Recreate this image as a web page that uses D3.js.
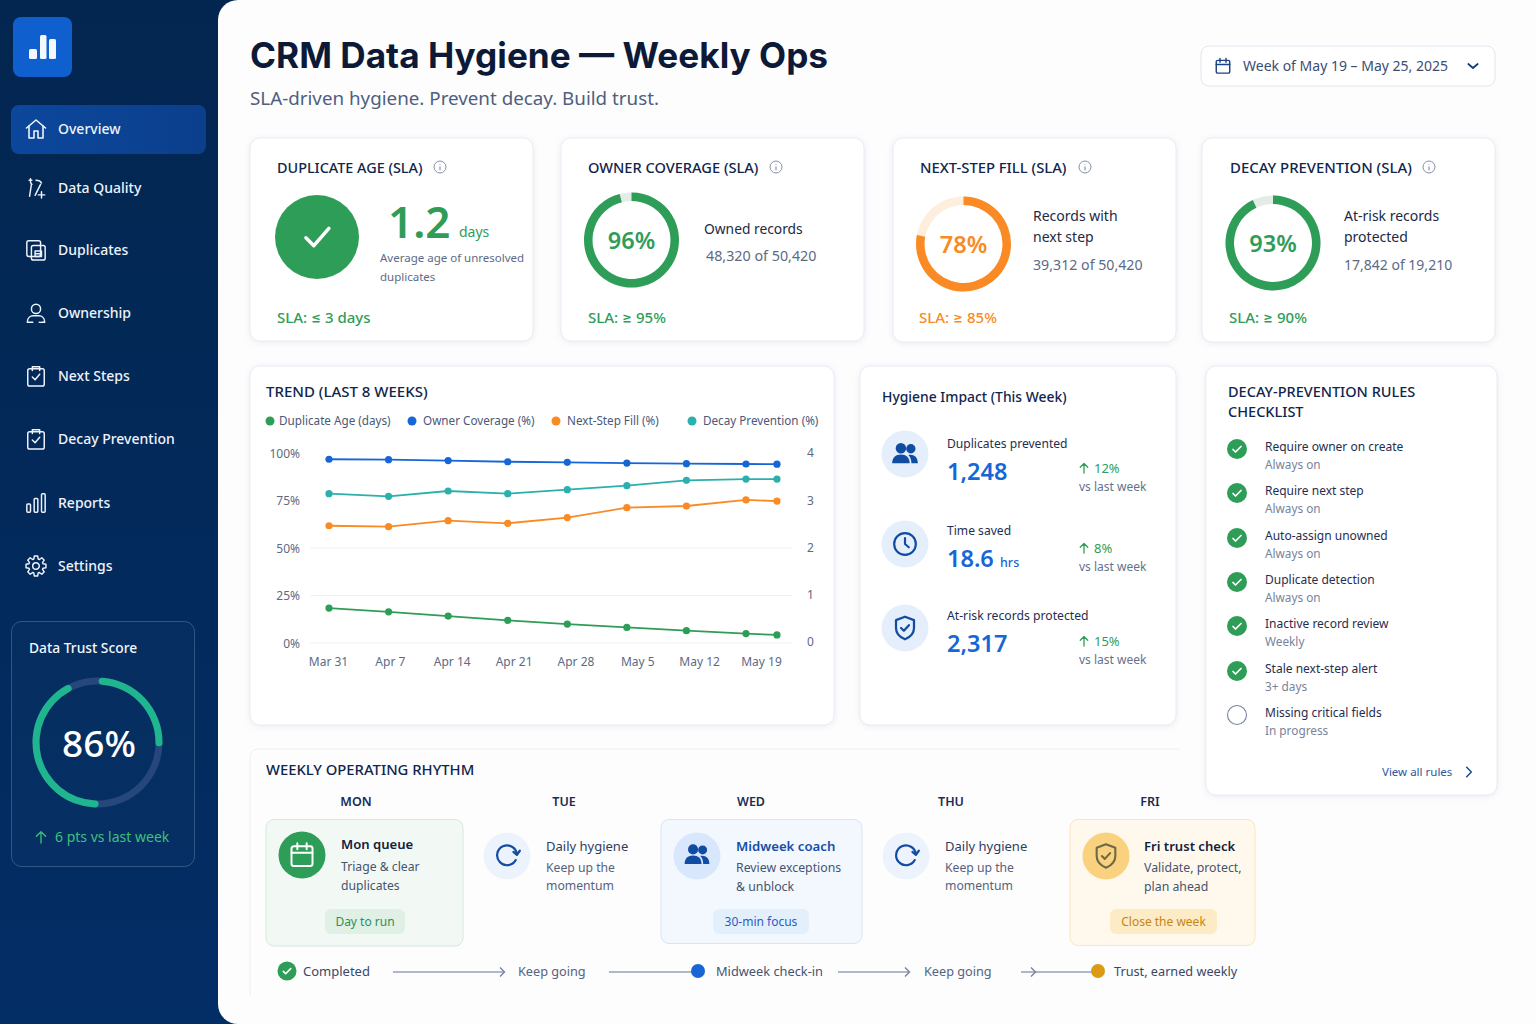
<!DOCTYPE html>
<html>
<head>
<meta charset="utf-8">
<title>CRM Data Hygiene</title>
<script src="https://cdn.jsdelivr.net/npm/d3@7"></script>
<style>
  html, body { margin: 0; padding: 0; background: #03295c; overflow: hidden; }
  svg { display: block; font-family: "Noto Sans", Inter, sans-serif; }
  .card { fill: #fff; stroke: #e8ecf4; filter: drop-shadow(0 1px 3px rgba(30,50,90,.09)); }
</style>
</head>
<body>
<div id="chart"></div>
<script>
// chart data
const weekLabels = ["Mar 31", "Apr 7", "Apr 14", "Apr 21", "Apr 28", "May 5", "May 12", "May 19"];
const pointWeeks = [0, 1, 2, 3, 4, 5, 6, 7, 7.52];
const duplicateAge = [0.74, 0.66, 0.57, 0.48, 0.40, 0.33, 0.26, 0.20, 0.17];
const ownerCoverage = [96.7, 96.5, 96.0, 95.4, 95.1, 94.7, 94.4, 94.2, 94.1];
const nextStepFill = [61.7, 61.2, 64.4, 63.0, 66.0, 71.2, 72.1, 75.3, 74.7];
const decayPrevention = [78.6, 77.2, 80.0, 78.6, 80.7, 82.8, 85.6, 86.3, 86.3];
const seriesNames = ["Duplicate Age (days)", "Owner Coverage (%)", "Next-Step Fill (%)", "Decay Prevention (%)"];
const pctTicks = [0, 25, 50, 75, 100];
const dayTicks = [0, 1, 2, 3, 4];

const navItems = ["Overview", "Data Quality", "Duplicates", "Ownership", "Next Steps", "Decay Prevention", "Reports", "Settings"];
const trustScore = 86;
const trustSegments = [[0.3, 26], [49.7, 93]];
const gaugeValues = [96, 78, 93];
const ruleNames = ["Require owner on create", "Require next step", "Auto-assign unowned", "Duplicate detection", "Inactive record review", "Stale next-step alert", "Missing critical fields"];
const ruleNotes = ["Always on", "Always on", "Always on", "Always on", "Weekly", "3+ days", "In progress"];
const ruleDone = [true, true, true, true, true, true, false];

const NAVY = "#10254d", GREEN = "#2e9d58", ORANGE = "#f98a24", BLUE = "#1766d6", TEAL = "#2bb0ad", MUTED = "#5d6a86";

const svg = d3.select("#chart").append("svg").attr("width", 1536).attr("height", 1024);

const defs = svg.append("defs");
const sideGrad = defs.append("linearGradient").attr("id", "side").attr("x1", 0).attr("y1", 0).attr("x2", 0).attr("y2", 1);
sideGrad.append("stop").attr("offset", 0).attr("stop-color", "#02264f");
sideGrad.append("stop").attr("offset", 1).attr("stop-color", "#032d66");
const navGrad = defs.append("linearGradient").attr("id", "navOn").attr("x1", 0).attr("y1", 0).attr("x2", 1).attr("y2", 0);
navGrad.append("stop").attr("offset", 0).attr("stop-color", "#0c479c");
navGrad.append("stop").attr("offset", 1).attr("stop-color", "#0b3f8c");

function txt(parent, x, y, str, size, fill, weight, anchor) {
  return parent.append("text").attr("x", x).attr("y", y).text(str)
    .attr("font-size", size).attr("fill", fill)
    .attr("font-weight", weight || 400).attr("text-anchor", anchor || "start");
}

function card(x0, y0, x1, y1, r) {
  return svg.append("rect").attr("class", "card").attr("x", x0).attr("y", y0)
    .attr("width", x1 - x0).attr("height", y1 - y0).attr("rx", r || 10);
}

// icons are drawn on a 24 unit grid, cx/cy is the middle
function icon(parent, cx, cy, size, color, paths, width, fill) {
  const k = size / 24;
  const g = parent.append("g").attr("transform", `translate(${cx - 12 * k},${cy - 12 * k}) scale(${k})`);
  paths.forEach(d => g.append("path").attr("d", d).attr("fill", fill ? color : "none")
    .attr("stroke", fill ? "none" : color).attr("stroke-width", width || 1.8)
    .attr("stroke-linecap", "round").attr("stroke-linejoin", "round"));
  return g;
}

const circ = (x, y, r) => `M${x - r} ${y}a${r} ${r} 0 1 0 ${2 * r} 0a${r} ${r} 0 1 0 ${-2 * r} 0z`;
const rrect = (x, y, w, h, r) => `M${x + r} ${y}h${w - 2 * r}a${r} ${r} 0 0 1 ${r} ${r}v${h - 2 * r}a${r} ${r} 0 0 1 ${-r} ${r}h${-(w - 2 * r)}a${r} ${r} 0 0 1 ${-r} ${-r}v${-(h - 2 * r)}a${r} ${r} 0 0 1 ${r} ${-r}z`;

function gearPath() {
  const pts = [];
  for (let i = 0; i < 8; i++) {
    const a = i * Math.PI / 4;
    [[-0.3, 8], [-0.17, 11], [0.17, 11], [0.3, 8]].forEach(p => {
      pts.push([12 + p[1] * Math.sin(a + p[0]), 12 - p[1] * Math.cos(a + p[0])]);
    });
  }
  return "M" + pts.map(p => p[0].toFixed(2) + " " + p[1].toFixed(2)).join("L") + "z";
}

const ICONS = {
  home: ["M2.5 11 12 3l9.5 8", "M5 9v12h5v-7h4v7h5V9"],
  quality: ["M6 2v3M4.5 3.5h3", "M7 8 5 21", "M11 20 17 8", "M12 3.5c3 0 5 1 6 3", "M18 16v7M14.5 19.5h7", "M6 6l1.5 2"],
  dup: [rrect(2, 2, 15, 17, 2), rrect(7, 7, 15, 16, 2), "M11 13h7v6h-7zM11 16h7"],
  user: [circ(12, 7.5, 5), "M2.5 22c0-4.5 3-7 6.5-7h6c3.5 0 6.5 2.5 6.5 7 0 0-6 .5-6 0M2.5 22h6"],
  clip: [rrect(3, 4, 18, 19, 2), "M8 6V2h8v4", "M8 13l3 3 5-6"],
  reports: [rrect(2, 13, 4, 9, 1), rrect(10, 7, 4, 15, 1), rrect(18, 2, 4, 20, 1)],
  gear: [gearPath(), circ(12, 12, 3.6)],
  calendar: [rrect(3, 4.5, 18, 17, 2), "M8 2v5M16 2v5M3 10h18"],
  clock: [circ(12, 12, 10), "M12 6.5V12l3.5 3"],
  shield: ["M12 2 4 5v7c0 5 3.5 8.2 8 10 4.5-1.8 8-5 8-10V5z", "M8.5 12l2.5 2.5 4.5-5"],
  refresh: ["M19.5 15.5a8.5 8.5 0 1 1 1-5", "M20.5 11l-3-2.500M20.5 11l2.500-3.500"]
};
const PEOPLE = [circ(8.5, 7, 4.5), circ(17, 7.5, 4), "M1 20c0-5 3-7.5 7.5-7.5S16 15 16 20z", "M17.5 20c0-3-.8-5.5-2.6-7.2 4.500-.8 8.100 1.500 8.100 7.200z"];

// sidebar
svg.append("rect").attr("width", 1536).attr("height", 1024).attr("fill", "url(#side)");
svg.append("rect").attr("x", 13).attr("y", 17).attr("width", 59).attr("height", 60).attr("rx", 8).attr("fill", "#0f5fce");
[[29, 49, 8, 10], [40, 35, 6.500, 24], [49, 39, 7, 20]].forEach(b => {
  svg.append("rect").attr("x", b[0]).attr("y", b[1]).attr("width", b[2]).attr("height", b[3]).attr("rx", 1.5).attr("fill", "#f3f7fe");
});
svg.append("rect").attr("x", 11).attr("y", 105).attr("width", 195).attr("height", 49).attr("rx", 8).attr("fill", "url(#navOn)");

const navY = d3.scaleOrdinal().domain(navItems).range([129, 188, 250, 313, 376, 439, 503, 566]);
const navIcons = [ICONS.home, ICONS.quality, ICONS.dup, ICONS.user, ICONS.clip, ICONS.clip, ICONS.reports, ICONS.gear];
navItems.forEach((name, i) => {
  icon(svg, 36, navY(name), name === "Overview" ? 24 : 22, "#eef3fb", navIcons[i], 1.6);
  txt(svg, 58, navY(name) + 5, name, 14, "#eef3fb", 500);
});

// trust score box
svg.append("rect").attr("x", 11.5).attr("y", 621.5).attr("width", 183).attr("height", 245).attr("rx", 10)
  .attr("fill", "rgba(255,255,255,.015)").attr("stroke", "rgba(190,210,240,.25)");
txt(svg, 29, 653, "Data Trust Score", 13.8, "#f4f7fc", 500);
const angle = d3.scaleLinear().domain([0, 100]).range([0, 2 * Math.PI]);
const trustG = svg.append("g").attr("transform", "translate(97.5,742.5)");
const trustArc = d3.arc().innerRadius(58).outerRadius(65).cornerRadius(3.5);
trustG.append("path").attr("d", trustArc({ startAngle: 0, endAngle: 2 * Math.PI })).attr("fill", "#25477b");
trustG.selectAll("path.seg").data(trustSegments).enter().append("path").attr("class", "seg")
  .attr("d", d => trustArc({ startAngle: angle(d[0]), endAngle: angle(d[1]) }))
  .attr("fill", "#1fb58f");
txt(svg, 99, 757, trustScore + "%", 37, "#fff", 500, "middle");
icon(svg, 41, 837, 16, "#3fc07a", ["M12 21V4M5 11l7-7 7 7"], 2);
txt(svg, 55, 842, "6 pts vs last week", 14, "#3fc07a", 400);

// main panel
svg.append("rect").attr("x", 218).attr("y", 0).attr("width", 1340).attr("height", 1024).attr("rx", 20).attr("fill", "#fdfdfe");

txt(svg, 250, 68, "CRM Data Hygiene — Weekly Ops", 35.2, "#0c1a38", 700).attr("font-family", "Inter, sans-serif");
txt(svg, 250, 105, "SLA-driven hygiene. Prevent decay. Build trust.", 18.8, "#4f5f7e", 400);

svg.append("rect").attr("x", 1201).attr("y", 46).attr("width", 294).attr("height", 40).attr("rx", 8).attr("fill", "#fff").attr("stroke", "#e2e6f0");
icon(svg, 1223, 66, 18, "#1d4283", ICONS.calendar, 1.9);
txt(svg, 1243, 71, "Week of May 19 – May 25, 2025", 14, "#3c4d74");
icon(svg, 1473, 66, 16, "#123a7a", ["M5 9l7 6 7-6"], 2.6);

// SLA cards
function infoIcon(x, y) {
  const g = svg.append("g").attr("transform", `translate(${x},${y})`);
  g.append("circle").attr("r", 6).attr("fill", "none").attr("stroke", "#8492ad").attr("stroke-width", 1);
  g.append("path").attr("d", "M0 -.5V3.200M0 -3V-2.600").attr("stroke", "#8492ad").attr("stroke-width", 1.2);
}

card(250, 138, 533, 341);
card(561, 138, 864, 341);
card(893, 138, 1176, 342);
card(1202, 138, 1495, 342);

txt(svg, 277, 173, "DUPLICATE AGE (SLA)", 14.4, NAVY, 500); infoIcon(440, 167);
txt(svg, 588, 173, "OWNER COVERAGE (SLA)", 14.6, NAVY, 500); infoIcon(776, 167);
txt(svg, 920, 173, "NEXT-STEP FILL (SLA)", 14.8, NAVY, 500); infoIcon(1085, 167);
txt(svg, 1230, 173, "DECAY PREVENTION (SLA)", 14.9, NAVY, 500); infoIcon(1429, 167);

svg.append("circle").attr("cx", 317).attr("cy", 237).attr("r", 42).attr("fill", GREEN);
icon(svg, 317, 237, 38, "#fff", ["M5 12.500l5 5L19.500 6.500"], 2.2);
txt(svg, 388, 238, "1.2", 44, GREEN, 600);
txt(svg, 459, 237, "days", 14, GREEN);
txt(svg, 380, 262, "Average age of unresolved", 11.5, MUTED);
txt(svg, 380, 281, "duplicates", 11.5, MUTED);
txt(svg, 277, 323, "SLA: ≤ 3 days", 15, GREEN, 500);
txt(svg, 588, 323, "SLA: ≥ 95%", 15, GREEN, 500);
txt(svg, 919, 323, "SLA: ≥ 85%", 15, ORANGE, 500);
txt(svg, 1229, 323, "SLA: ≥ 90%", 15, GREEN, 500);

function gauge(cx, cy, value, color, track) {
  const g = svg.append("g").attr("transform", `translate(${cx},${cy})`);
  const arc = d3.arc().innerRadius(39).outerRadius(47.5);
  g.append("path").attr("d", arc({ startAngle: 0, endAngle: 2 * Math.PI })).attr("fill", track);
  g.append("path").attr("d", arc({ startAngle: 0, endAngle: angle(value) })).attr("fill", color);
  txt(g, 0, 9, value + "%", 23.5, color, 600, "middle");
}
gauge(631.5, 240, gaugeValues[0], GREEN, "#e4ece8");
gauge(963.5, 244, gaugeValues[1], ORANGE, "#fdeedd");
gauge(1273, 243, gaugeValues[2], GREEN, "#e4ece8");

txt(svg, 704, 234, "Owned records", 13.8, "#1c2a44");
txt(svg, 706, 261, "48,320 of 50,420", 14.3, MUTED);
txt(svg, 1033, 221, "Records with", 14, "#1c2a44");
txt(svg, 1033, 242, "next step", 14, "#1c2a44");
txt(svg, 1033, 270, "39,312 of 50,420", 14.2, MUTED);
txt(svg, 1344, 221, "At-risk records", 14, "#1c2a44");
txt(svg, 1344, 242, "protected", 14, "#1c2a44");
txt(svg, 1344, 270, "17,842 of 19,210", 14, MUTED);

// trend chart
card(250, 366, 834, 725);
txt(svg, 266, 397, "TREND (LAST 8 WEEKS)", 15, NAVY, 500);

const seriesColors = d3.scaleOrdinal().domain(seriesNames).range([GREEN, BLUE, ORANGE, TEAL]);
const legendX = d3.scaleOrdinal().domain(seriesNames).range([270, 412, 556, 692]);
seriesNames.forEach(name => {
  svg.append("circle").attr("cx", legendX(name)).attr("cy", 421).attr("r", 4.5).attr("fill", seriesColors(name));
  txt(svg, legendX(name) + (name === seriesNames[0] ? 9 : 11), 425, name, 11.7, "#4a5878");
});

const xPoint = d3.scaleLinear().domain([0, 7]).range([329, 746]);
const xLabel = d3.scalePoint().domain(weekLabels).range([328, 761]);
const yPct = d3.scaleLinear().domain([0, 100]).range([643, 453]);
const yDays = d3.scaleLinear().domain([0, 4]).range([643, 454]);

svg.append("g").selectAll("line").data([0, 25, 50]).enter().append("line")
  .attr("x1", 310).attr("x2", 792)
  .attr("y1", d => yPct(d)).attr("y2", d => yPct(d))
  .attr("stroke", "#eef1f6");

function styleAxis(g) {
  g.select(".domain").remove();
  g.selectAll("text").attr("font-size", 12).attr("fill", MUTED).attr("font-family", "'Noto Sans', sans-serif");
}
svg.append("g").attr("transform", "translate(300,0.5)")
  .call(d3.axisLeft(yPct).tickValues(pctTicks).tickSize(0).tickPadding(0).tickFormat(d => d + "%")).call(styleAxis);
svg.append("g").attr("transform", "translate(807,-1)")
  .call(d3.axisRight(yDays).tickValues(dayTicks).tickSize(0).tickPadding(0).tickFormat(d3.format("d"))).call(styleAxis);
svg.append("g").attr("transform", "translate(0,643)")
  .call(d3.axisBottom(xLabel).tickSize(0).tickPadding(14)).call(styleAxis);

function drawSeries(values, y, color) {
  const rows = values.map((v, i) => ({ week: pointWeeks[i], value: v }));
  const line = d3.line().x(d => xPoint(d.week)).y(d => y(d.value));
  svg.append("path").attr("d", line(rows)).attr("fill", "none").attr("stroke", color).attr("stroke-width", 1.8);
  svg.append("g").selectAll("circle").data(rows).enter().append("circle")
    .attr("cx", d => xPoint(d.week)).attr("cy", d => y(d.value)).attr("r", 3.6).attr("fill", color);
}
drawSeries(duplicateAge, yDays, GREEN);
drawSeries(ownerCoverage, yPct, BLUE);
drawSeries(nextStepFill, yPct, ORANGE);
drawSeries(decayPrevention, yPct, TEAL);

// hygiene impact
card(860, 366, 1176, 725);
txt(svg, 882, 402, "Hygiene Impact (This Week)", 13.9, NAVY, 500);

function softCircle(x, y, r, fill) {
  svg.append("circle").attr("cx", x).attr("cy", y).attr("r", r).attr("fill", fill);
}
function upArrow(x, y) {
  icon(svg, x, y, 12, GREEN, ["M12 22V3M4.500 10.500 12 3l7.500 7.500"], 2.6);
}

softCircle(905, 454, 23.5, "#e5effb");
icon(svg, 905, 454, 28, "#114ca3", PEOPLE, 0, true);
txt(svg, 947, 448, "Duplicates prevented", 12.1, "#1f2e50");
txt(svg, 947, 480, "1,248", 23.5, BLUE, 600);
upArrow(1084, 468); txt(svg, 1094, 473, "12%", 13, GREEN);
txt(svg, 1079, 491, "vs last week", 12, "#66728c");

softCircle(905, 544, 23.5, "#e5effb");
icon(svg, 905, 544, 26, "#114ca3", ICONS.clock, 2);
txt(svg, 947, 535, "Time saved", 12.1, "#1f2e50");
txt(svg, 947, 567, "18.6", 23.5, BLUE, 600);
txt(svg, 1000, 567, "hrs", 12.5, BLUE, 500);
upArrow(1084, 548); txt(svg, 1094, 553, "8%", 13, GREEN);
txt(svg, 1079, 571, "vs last week", 12, "#66728c");

softCircle(905, 628, 23.5, "#e5effb");
icon(svg, 905, 628, 27, "#114ca3", ICONS.shield, 2);
txt(svg, 947, 620, "At-risk records protected", 12.2, "#1f2e50");
txt(svg, 947, 652, "2,317", 23.5, BLUE, 600);
upArrow(1084, 641); txt(svg, 1094, 646, "15%", 13, GREEN);
txt(svg, 1079, 664, "vs last week", 12, "#66728c");

// rules checklist
card(1206, 366, 1497, 795);
txt(svg, 1228, 397, "DECAY-PREVENTION RULES", 14.5, NAVY, 500);
txt(svg, 1228, 417, "CHECKLIST", 14.5, NAVY, 500);
const ruleCircleY = [449, 493, 538, 582, 626, 671, 715];
ruleNames.forEach((name, i) => {
  const y = ruleCircleY[i];
  if (ruleDone[i]) {
    softCircle(1237, y, 10, GREEN);
    icon(svg, 1237, y, 12, "#fff", ["M4 13l5 5L20 7"], 3.4);
  } else {
    svg.append("circle").attr("cx", 1237).attr("cy", y).attr("r", 9.5).attr("fill", "#fff").attr("stroke", "#76829c").attr("stroke-width", 1.1);
  }
  txt(svg, 1265, y + 2, name, 12, "#1f2e50");
  txt(svg, 1265, y + 20, ruleNotes[i], 11.8, "#77839b");
});
txt(svg, 1382, 776, "View all rules", 11.5, "#2a5a9c");
icon(svg, 1469, 772, 14, "#1d4a90", ["M8 4l8 8-8 8"], 2.6);

// weekly rhythm
svg.append("path").attr("d", "M250 995V757a8 8 0 0 1 8-8H1180").attr("fill", "none").attr("stroke", "#ebeef4");
txt(svg, 266, 775, "WEEKLY OPERATING RHYTHM", 14.8, NAVY, 500);

const dayNames = ["MON", "TUE", "WED", "THU", "FRI"];
const dayX = d3.scaleOrdinal().domain(dayNames).range([356, 564, 751, 951, 1150]);
dayNames.forEach(d => txt(svg, dayX(d), 806, d, 12.5, "#1a2c52", 600, "middle"));

function box(x0, y0, x1, y1, fill, stroke) {
  svg.append("rect").attr("x", x0).attr("y", y0).attr("width", x1 - x0).attr("height", y1 - y0).attr("rx", 8).attr("fill", fill).attr("stroke", stroke);
}
function pill(x0, x1, fill, label, color) {
  svg.append("rect").attr("x", x0).attr("y", 909).attr("width", x1 - x0).attr("height", 25).attr("rx", 6).attr("fill", fill);
  txt(svg, (x0 + x1) / 2, 926, label, 12, color, 400, "middle");
}

box(266, 819.5, 463, 946, "#f2f9f4", "#d5e9dc");
softCircle(302, 855, 23.5, GREEN);
icon(svg, 302, 855, 28, "#fff", ICONS.calendar, 1.7);
txt(svg, 341, 849, "Mon queue", 13.1, "#13213f", 600);
txt(svg, 341, 871, "Triage & clear", 12.2, "#46546f");
txt(svg, 341, 890, "duplicates", 12.2, "#46546f");
pill(325, 405, "#e0f0e5", "Day to run", "#2f8f55");

softCircle(507, 856, 23.5, "#edf3fc");
icon(svg, 507, 856, 28, "#114ca3", ICONS.refresh, 1.9);
txt(svg, 546, 851, "Daily hygiene", 13, "#2d3d5f");
txt(svg, 546, 872, "Keep up the", 12.2, "#55627f");
txt(svg, 546, 890, "momentum", 12.2, "#55627f");

box(661, 819.5, 862, 943.5, "#f3f8fe", "#d6e5f8");
softCircle(697, 856, 23.5, "#d8e7fb");
icon(svg, 697, 855, 27, "#114ca3", PEOPLE, 0, true);
txt(svg, 736, 851, "Midweek coach", 13.2, "#174ea6", 600);
txt(svg, 736, 872, "Review exceptions", 12.3, "#46546f");
txt(svg, 736, 891, "& unblock", 12.3, "#46546f");
pill(713, 809, "#e4effc", "30-min focus", "#1e5fc8");

softCircle(906, 856, 23.5, "#edf3fc");
icon(svg, 906, 856, 28, "#114ca3", ICONS.refresh, 1.9);
txt(svg, 945, 851, "Daily hygiene", 13, "#2d3d5f");
txt(svg, 945, 872, "Keep up the", 12.2, "#55627f");
txt(svg, 945, 890, "momentum", 12.2, "#55627f");

box(1070, 819.5, 1255, 945.5, "#fff9ed", "#fbe6c1");
softCircle(1106, 856, 23.5, "#fad27f");
icon(svg, 1106, 856, 28, "#6b6a45", ICONS.shield, 1.8);
txt(svg, 1144, 851, "Fri trust check", 13.1, "#13213f", 600);
txt(svg, 1144, 872, "Validate, protect,", 12.3, "#46546f");
txt(svg, 1144, 891, "plan ahead", 12.3, "#46546f");
pill(1110, 1217, "#fdebc6", "Close the week", "#c8860f");

// bottom strip
function flowLine(x0, x1) {
  svg.append("line").attr("x1", x0).attr("x2", x1).attr("y1", 972).attr("y2", 972).attr("stroke", "#93a0ba").attr("stroke-width", 1.3);
}
function chevron(x) {
  svg.append("path").attr("d", `M${x - 4} 967.500l4.500 4.500-4.500 4.500`).attr("fill", "none").attr("stroke", "#75839f").attr("stroke-width", 1.4);
}
softCircle(287, 971, 9.5, GREEN);
icon(svg, 287, 971, 11, "#fff", ["M4 13l5 5L20 7"], 3.6);
txt(svg, 303, 976, "Completed", 13, "#3a4866");
flowLine(393, 504); chevron(504);
txt(svg, 518, 976, "Keep going", 12.7, "#55627f");
flowLine(609, 698); softCircle(698, 971, 7, BLUE);
txt(svg, 716, 976, "Midweek check-in", 12.8, "#46546f");
flowLine(838, 909); chevron(909);
txt(svg, 924, 976, "Keep going", 12.7, "#55627f");
flowLine(1021, 1098); chevron(1035); softCircle(1098, 971, 7, "#dc9a12");
txt(svg, 1114, 976, "Trust, earned weekly", 12.7, "#3a4866");
</script>
</body>
</html>
